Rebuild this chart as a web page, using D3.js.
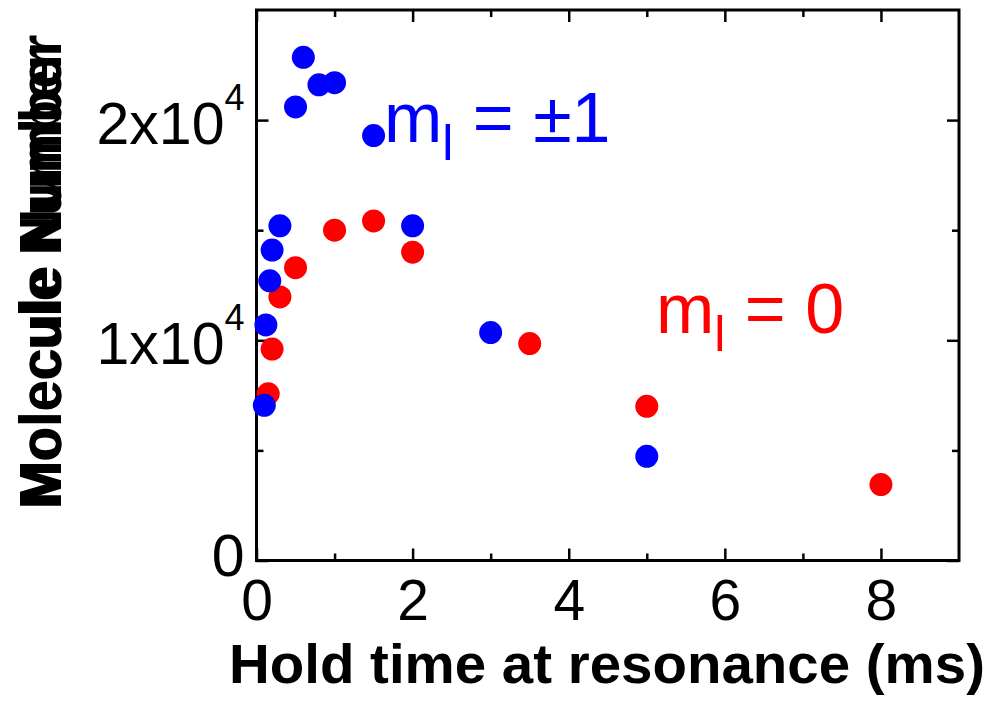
<!DOCTYPE html>
<meta charset="utf-8">
<script src="https://d3js.org/d3.v7.min.js"></script>
<title>Molecule number vs hold time</title>
<style>
  body { margin: 0; background: #fff; }
  svg text { font-family: "Liberation Sans", Arial, sans-serif; }
  .ax line { stroke: #000; stroke-width: 2.5; }
  .ax path { display: none; }
</style>
<body>
<script>
// data
var blueTime = [0.1, 0.12, 0.17, 0.2, 0.3, 0.5, 0.6, 0.8, 1.0, 1.5, 2.0, 3.0, 5.0];
var blueN    = [7050, 10700, 12700, 14100, 15200, 20600, 22850, 21600, 21700, 19300, 15200, 10350, 4730];
var redTime  = [0.15, 0.2, 0.3, 0.5, 1.0, 1.5, 2.0, 3.5, 5.0, 8.0];
var redN     = [7570, 9600, 11970, 13300, 15000, 15420, 14000, 9850, 7000, 3450];

var xMajor = [0, 2, 4, 6, 8], xMinor = [1, 3, 5, 7];
var yMajor = [0, 10000, 20000], yMinor = [5000, 15000];
var yLabels = [["0", null], ["1x10", "4"], ["2x10", "4"]];

var W = 993, H = 703;
var margin = {left: 256.5, right: 34, top: 10, bottom: 142.5};
var width = W - margin.left - margin.right,
    height = H - margin.top - margin.bottom;

var x = d3.scaleLinear().domain([0, 9]).range([0, width]);
var y = d3.scaleLinear().domain([0, 25000]).range([height, 0]);

var svg = d3.select("body").append("svg")
    .attr("width", W).attr("height", H);
var g = svg.append("g")
    .attr("transform", "translate(" + margin.left + "," + margin.top + ")");

// ticks, all pointing inward
g.append("g").attr("class", "ax").attr("transform", "translate(0," + height + ")")
    .call(d3.axisBottom(x).tickValues(xMajor).tickSize(-12).tickPadding(19)
        .tickFormat(d3.format("d")))
    .selectAll("text").attr("font-size", 57).attr("fill", "#000");
g.append("g").attr("class", "ax").attr("transform", "translate(0," + height + ")")
    .call(d3.axisBottom(x).tickValues(xMinor).tickSize(-7).tickFormat(""));
g.append("g").attr("class", "ax")
    .call(d3.axisTop(x).tickValues(xMajor).tickSize(-12).tickFormat(""));
g.append("g").attr("class", "ax")
    .call(d3.axisTop(x).tickValues(xMinor).tickSize(-7).tickFormat(""));

var yl = g.append("g").attr("class", "ax")
    .call(d3.axisLeft(y).tickValues(yMajor).tickSize(-12).tickFormat(""));
g.append("g").attr("class", "ax")
    .call(d3.axisLeft(y).tickValues(yMinor).tickSize(-7).tickFormat(""));
g.append("g").attr("class", "ax").attr("transform", "translate(" + width + ",0)")
    .call(d3.axisRight(y).tickValues(yMajor).tickSize(-12).tickFormat(""));
g.append("g").attr("class", "ax").attr("transform", "translate(" + width + ",0)")
    .call(d3.axisRight(y).tickValues(yMinor).tickSize(-7).tickFormat(""));

// y tick labels with superscript exponent
yl.selectAll(".tick").each(function(d, i) {
  var lab = yLabels[i];
  var t = d3.select(this).append("text")
      .attr("x", -12).attr("y", i === 0 ? 15 : 23)
      .attr("text-anchor", "end").attr("font-size", 59).attr("fill", "#000");
  t.append("tspan").text(lab[0]);
  if (lab[1]) t.append("tspan").attr("font-size", 36).attr("dy", -34).text(lab[1]);
});

// frame
g.append("rect").attr("width", width).attr("height", height)
    .attr("fill", "none").attr("stroke", "#000").attr("stroke-width", 3);

// points
var red = redTime.map(function(t, i) { return [t, redN[i]]; });
var blue = blueTime.map(function(t, i) { return [t, blueN[i]]; });
g.selectAll(".red").data(red).enter().append("circle")
    .attr("cx", function(d) { return x(d[0]); })
    .attr("cy", function(d) { return y(d[1]); })
    .attr("r", 11.5).attr("fill", "#ff0000");
g.selectAll(".blue").data(blue).enter().append("circle")
    .attr("cx", function(d) { return x(d[0]); })
    .attr("cy", function(d) { return y(d[1]); })
    .attr("r", 11.5).attr("fill", "#0000ff");

// labels in the plot
function mLabel(px, py, rest, col) {
  var t = svg.append("text").attr("x", px).attr("y", py)
      .attr("font-size", 70).attr("fill", col);
  t.append("tspan").text("m");
  t.append("tspan").attr("font-size", 50).attr("dy", 18).text("l");
  t.append("tspan").attr("dy", -18).text(" = " + rest);
}
mLabel(384, 142, "\u00b11", "#0000ff");
mLabel(656, 333, "0", "#ff0000");

// axis titles
svg.append("text").attr("x", 607).attr("y", 683)
    .attr("text-anchor", "middle").attr("font-size", 56).attr("font-weight", "bold")
    .attr("textLength", 756).attr("lengthAdjust", "spacingAndGlyphs")
    .text("Hold time at resonance (ms)");

// the y title in the original is printed twice, slightly out of register
[[61, 272, 475], [61, 277, 458]].forEach(function(p) {
  svg.append("text").attr("transform", "translate(" + p[0] + "," + p[1] + ") rotate(-90)")
      .attr("text-anchor", "middle").attr("font-size", 60).attr("font-weight", "bold")
      .attr("textLength", p[2]).attr("lengthAdjust", "spacingAndGlyphs")
      .text("Molecule Number");
});
</script>
</body>
